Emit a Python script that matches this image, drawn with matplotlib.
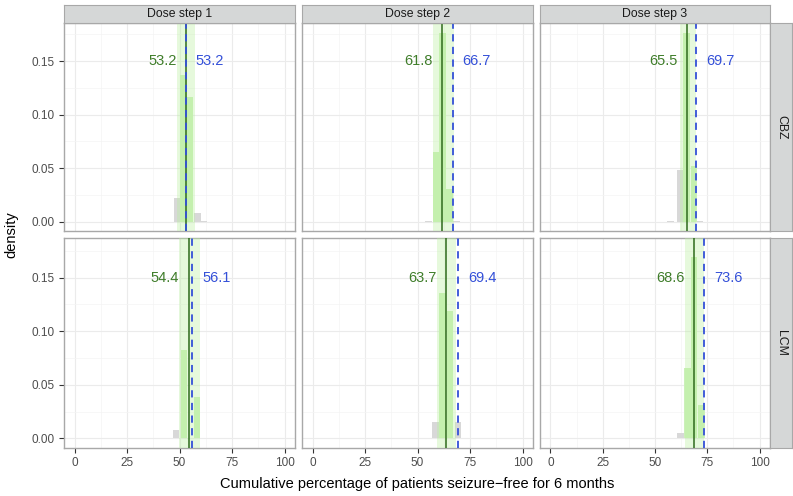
import matplotlib.pyplot as plt
import numpy as np

plt.rcParams['font.family'] = ['Liberation Sans', 'DejaVu Sans']

# ==================== data ====================
doses = ['Dose step 1', 'Dose step 2', 'Dose step 3']
drugs = ['CBZ', 'LCM']

# solid green line / label
green_cbz = [53.2, 61.8, 65.5]
green_lcm = [54.4, 63.7, 68.6]
# dashed blue line / label
blue_cbz = [53.2, 66.7, 69.7]
blue_lcm = [56.1, 69.4, 73.6]

# shaded interval
band_lo_cbz = [48.8, 57.4, 62.0]
band_hi_cbz = [57.3, 67.2, 69.8]
band_lo_lcm = [49.7, 59.5, 64.3]
band_hi_lcm = [59.6, 68.5, 73.3]

# histogram bars (bin centre, density)
bin_width = 3.1
bins_cbz = [
    ([48.7, 51.9, 55.1, 58.6, 61.6], [0.022, 0.137, 0.117, 0.0085, 0.001]),
    ([55.3, 58.7, 61.9, 65.3, 68.6], [0.001, 0.065, 0.176, 0.031, 0.001]),
    ([57.4, 62.0, 65.1, 68.6, 71.5], [0.001, 0.048, 0.176, 0.052, 0.001]),
]
bins_lcm = [
    ([48.3, 52.1, 58.3], [0.008, 0.082, 0.039]),
    ([58.5, 62.0, 65.5, 69.4], [0.015, 0.136, 0.119, 0.015]),
    ([62.2, 65.6, 68.6, 72.2], [0.005, 0.066, 0.169, 0.031]),
]

label_y = 0.15

# ==================== layout (pixels) ====================
W, H = 793, 496
fig = plt.figure(figsize=(W / 100, H / 100), dpi=100)

col_x = [(64, 295), (302, 533), (540, 770)]
row_y = [(22.7, 231), (238.3, 448.3)]
ylims = [(-0.0087, 0.186), (-0.0093, 0.1866)]

border = '#a8a8a8'
strip_fill = '#d5d7d7'


def px_axes(x0, y0, x1, y1):
    return fig.add_axes([x0 / W, 1 - y1 / H, (x1 - x0) / W, (y1 - y0) / H])


green_line = '#2e6a1c'
green_txt = '#3f7d2a'
blue_col = '#3450d8'

rows = [
    (green_cbz, blue_cbz, band_lo_cbz, band_hi_cbz, bins_cbz),
    (green_lcm, blue_lcm, band_lo_lcm, band_hi_lcm, bins_lcm),
]

for r, (gv, bv, lo, hi, bins) in enumerate(rows):
    for c in range(3):
        x0, x1 = col_x[c]
        y0, y1 = row_y[r]
        ax = px_axes(x0, y0, x1, y1)
        ax.set_xlim(-5, 105)
        ax.set_ylim(*ylims[r])

        centers, dens = bins[c]
        cols = ['#cbf0b9' if lo[c] < x < hi[c] else '#d8d8d8' for x in centers]
        ax.bar(centers, dens, width=bin_width, color=cols, zorder=2)
        ax.axvspan(lo[c], hi[c], color='#b8f09c', alpha=0.35, lw=0, zorder=3)
        ax.axvline(gv[c], color=green_line, lw=1.1, zorder=4)
        ax.axvline(bv[c], color=blue_col, lw=1.3, ls=(0, (4, 3)), zorder=5)

        ax.annotate(f'{gv[c]:.1f}', (gv[c], label_y), xytext=(-7, 0),
                    textcoords='offset points', ha='right', va='center',
                    color=green_txt, fontsize=10.5, zorder=6)
        ax.annotate(f'{bv[c]:.1f}', (bv[c], label_y), xytext=(7, 0),
                    textcoords='offset points', ha='left', va='center',
                    color=blue_col, fontsize=10.5, zorder=6)

        ax.set_xticks([0, 25, 50, 75, 100])
        ax.set_xticks([12.5, 37.5, 62.5, 87.5], minor=True)
        ax.set_yticks([0, 0.05, 0.10, 0.15])
        ax.set_yticks([0.025, 0.075, 0.125, 0.175], minor=True)
        ax.grid(which='major', color='#ebebeb', lw=0.8, zorder=0)
        ax.grid(which='minor', color='#f4f4f4', lw=0.5, zorder=0)
        ax.set_axisbelow(True)
        for s in ax.spines.values():
            s.set_color(border)
            s.set_linewidth(1.0)
        ax.tick_params(which='minor', length=0)
        ax.tick_params(which='major', length=3.5, color='#333333',
                       labelsize=8.5, labelcolor='#4d4d4d', pad=3)
        if c == 0:
            ax.set_yticklabels(['0.00', '0.05', '0.10', '0.15'])
        else:
            ax.tick_params(axis='y', left=False, labelleft=False)
        if r == 1:
            ax.set_xticklabels(['0', '25', '50', '75', '100'])
        else:
            ax.tick_params(axis='x', bottom=False, labelbottom=False)

# strips on top
for c, (x0, x1) in enumerate(col_x):
    s = px_axes(x0, 5, x1, 22.7)
    s.set_facecolor(strip_fill)
    s.set_xticks([])
    s.set_yticks([])
    for sp in s.spines.values():
        sp.set_color(border)
    s.text(0.5, 0.5, doses[c], ha='center', va='center', fontsize=8.8,
           color='#1a1a1a', transform=s.transAxes)

# strips on the right
for r, (y0, y1) in enumerate(row_y):
    s = px_axes(770, y0, 792, y1)
    s.set_facecolor(strip_fill)
    s.set_xticks([])
    s.set_yticks([])
    for sp in s.spines.values():
        sp.set_color(border)
    s.text(0.5, 0.5, drugs[r], ha='center', va='center', fontsize=8.8,
           rotation=-90, color='#1a1a1a', transform=s.transAxes)

fig.text(11 / W, 1 - 235 / H, 'density', rotation=90, ha='center', va='center',
         fontsize=10.5)
fig.text(417 / W, 1 - 484 / H,
         'Cumulative percentage of patients seizure\u2212free for 6 months',
         ha='center', va='center', fontsize=10.5)

fig.savefig('out.png', dpi=100, facecolor='white')
